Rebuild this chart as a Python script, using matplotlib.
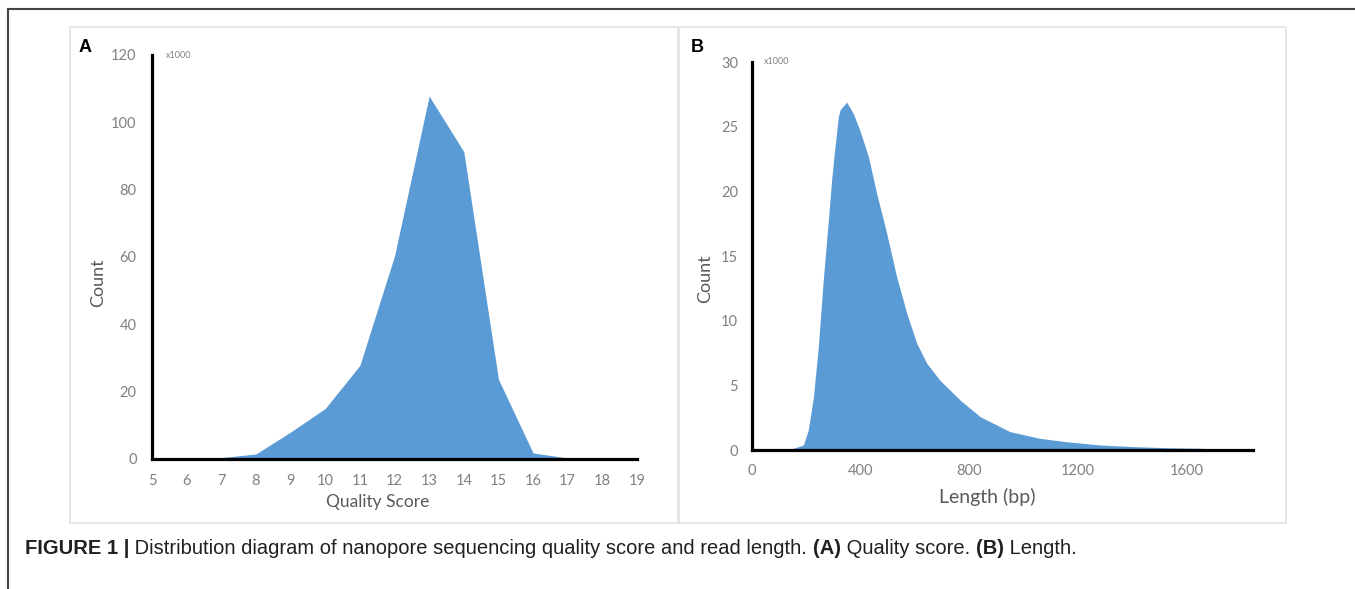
import matplotlib
matplotlib.use('Agg')
import matplotlib.pyplot as plt
from matplotlib.patches import Rectangle
from matplotlib.lines import Line2D

# panel A: quality score distribution (counts in thousands)
quality_score = [5, 6, 7, 8, 9, 10, 11, 12, 13, 14, 15, 16, 17, 18, 19]
quality_count = [0, 0, 0.4, 1.5, 8.0, 15.0, 27.8, 60.3, 107.8, 91.3, 23.7, 1.8, 0.3, 0, 0]
quality_ticks = [5, 6, 7, 8, 9, 10, 11, 12, 13, 14, 15, 16, 17, 18, 19]
quality_yticks = [0, 20, 40, 60, 80, 100, 120]

# panel B: read length distribution (counts in thousands)
length_bp = [0, 100, 152, 189, 207, 226, 244, 262, 281, 293, 305, 318, 324, 348, 373, 397,
             428, 459, 495, 532, 569, 606, 643, 691, 765, 839, 949, 1059, 1157, 1280,
             1402, 1525, 1648, 1733, 1760]
length_count = [0, 0, 0.13, 0.39, 1.55, 4.1, 8.0, 13.1, 17.8, 20.9, 23.4, 25.8, 26.3, 26.9,
                26.0, 24.7, 22.7, 19.8, 16.8, 13.4, 10.6, 8.25, 6.7, 5.4, 3.87, 2.58, 1.42,
                0.90, 0.64, 0.39, 0.26, 0.18, 0.13, 0.05, 0]
length_ticks = [0, 400, 800, 1200, 1600]
length_yticks = [0, 5, 10, 15, 20, 25, 30]

W, H = 1355, 589
fill_color = '#5B9BD5'
tick_gray = '#808080'
label_gray = '#595959'
sans = ['Lato', 'DejaVu Sans']
arial = ['Liberation Sans', 'DejaVu Sans']

fig = plt.figure(figsize=(W / 100, H / 100), dpi=100)


def px_rect(x0, y0, x1, y1):
    # pixel box (top-left origin) -> figure fraction [left, bottom, width, height]
    return [x0 / W, 1 - y1 / H, (x1 - x0) / W, (y1 - y0) / H]


def px(x, y):
    return x / W, 1 - y / H


# outer frame lines and panel boxes
fig.add_artist(Line2D([8 / W, 1], [1 - 9 / H, 1 - 9 / H], color='#444444', lw=1.5))
fig.add_artist(Line2D([8 / W, 8 / W], [0, 1 - 9 / H], color='#444444', lw=1.5))
for x0, x1 in [(70, 678), (679, 1286)]:
    l, b, w, h = px_rect(x0, 27, x1, 523)
    fig.add_artist(Rectangle((l, b), w, h, transform=fig.transFigure, fill=False,
                             edgecolor='#e3e3e3', lw=1.2))


def style_axes(ax):
    for side in ['top', 'right']:
        ax.spines[side].set_visible(False)
    for side in ['left', 'bottom']:
        ax.spines[side].set_linewidth(2.3)
        ax.spines[side].set_color('black')
    ax.tick_params(length=0, labelcolor=tick_gray, labelsize=10.5)
    for lab in ax.get_xticklabels() + ax.get_yticklabels():
        lab.set_family(sans)
    ax.patch.set_alpha(0)


# ---------------- panel A ----------------
axA = fig.add_axes(px_rect(152, 55, 637, 459))
axA.fill_between(quality_score, quality_count, 0, color=fill_color, lw=0)
axA.set_xlim(5, 19)
axA.set_ylim(0, 120)
axA.set_xticks(quality_ticks)
axA.set_yticks(quality_yticks)
style_axes(axA)
axA.tick_params(axis='x', pad=11)
axA.tick_params(axis='y', pad=11)

# ---------------- panel B ----------------
axB = fig.add_axes(px_rect(752, 62, 1253, 450))
axB.fill_between(length_bp, length_count, 0, color=fill_color, lw=0)
axB.set_xlim(0, 1843)
axB.set_ylim(0, 30)
axB.set_xticks(length_ticks)
axB.set_yticks(length_yticks)
style_axes(axB)
axB.tick_params(axis='x', pad=10)
axB.tick_params(axis='y', pad=10)

# axis labels, scale notes and panel letters
fig.text(*px(378, 502), 'Quality Score', family=sans, fontsize=12.5, color=label_gray,
         ha='center', va='center')
fig.text(*px(98, 283), 'Count', family=sans, fontsize=13, color=label_gray,
         ha='center', va='center', rotation=90)
fig.text(*px(987, 497), 'Length (bp)', family=sans, fontsize=14, color=label_gray,
         ha='center', va='center')
fig.text(*px(705, 279), 'Count', family=sans, fontsize=13, color=label_gray,
         ha='center', va='center', rotation=90)
fig.text(*px(166, 56), 'x1000', family=sans, fontsize=6.5, color=tick_gray,
         ha='left', va='center')
fig.text(*px(764, 62), 'x1000', family=sans, fontsize=6.5, color=tick_gray,
         ha='left', va='center')
fig.text(*px(85, 47), 'A', family=arial, fontsize=13, fontweight='bold',
         ha='center', va='center')
fig.text(*px(697, 47), 'B', family=arial, fontsize=13, fontweight='bold',
         ha='center', va='center')

# caption, written piece by piece to mix bold and regular
caption = [('FIGURE 1 |', 'bold'),
           (' Distribution diagram of nanopore sequencing quality score and read length. ', 'normal'),
           ('(A)', 'bold'), (' Quality score. ', 'normal'), ('(B)', 'bold'), (' Length.', 'normal')]
renderer = fig.canvas.get_renderer()
x_cur = 25
for piece, weight in caption:
    t = fig.text(*px(x_cur, 548), piece, family=arial,
                 fontsize=14.5, fontweight=weight, color='#231f20', ha='left', va='center')
    x_cur += t.get_window_extent(renderer).width

fig.savefig('out.png', dpi=100)
